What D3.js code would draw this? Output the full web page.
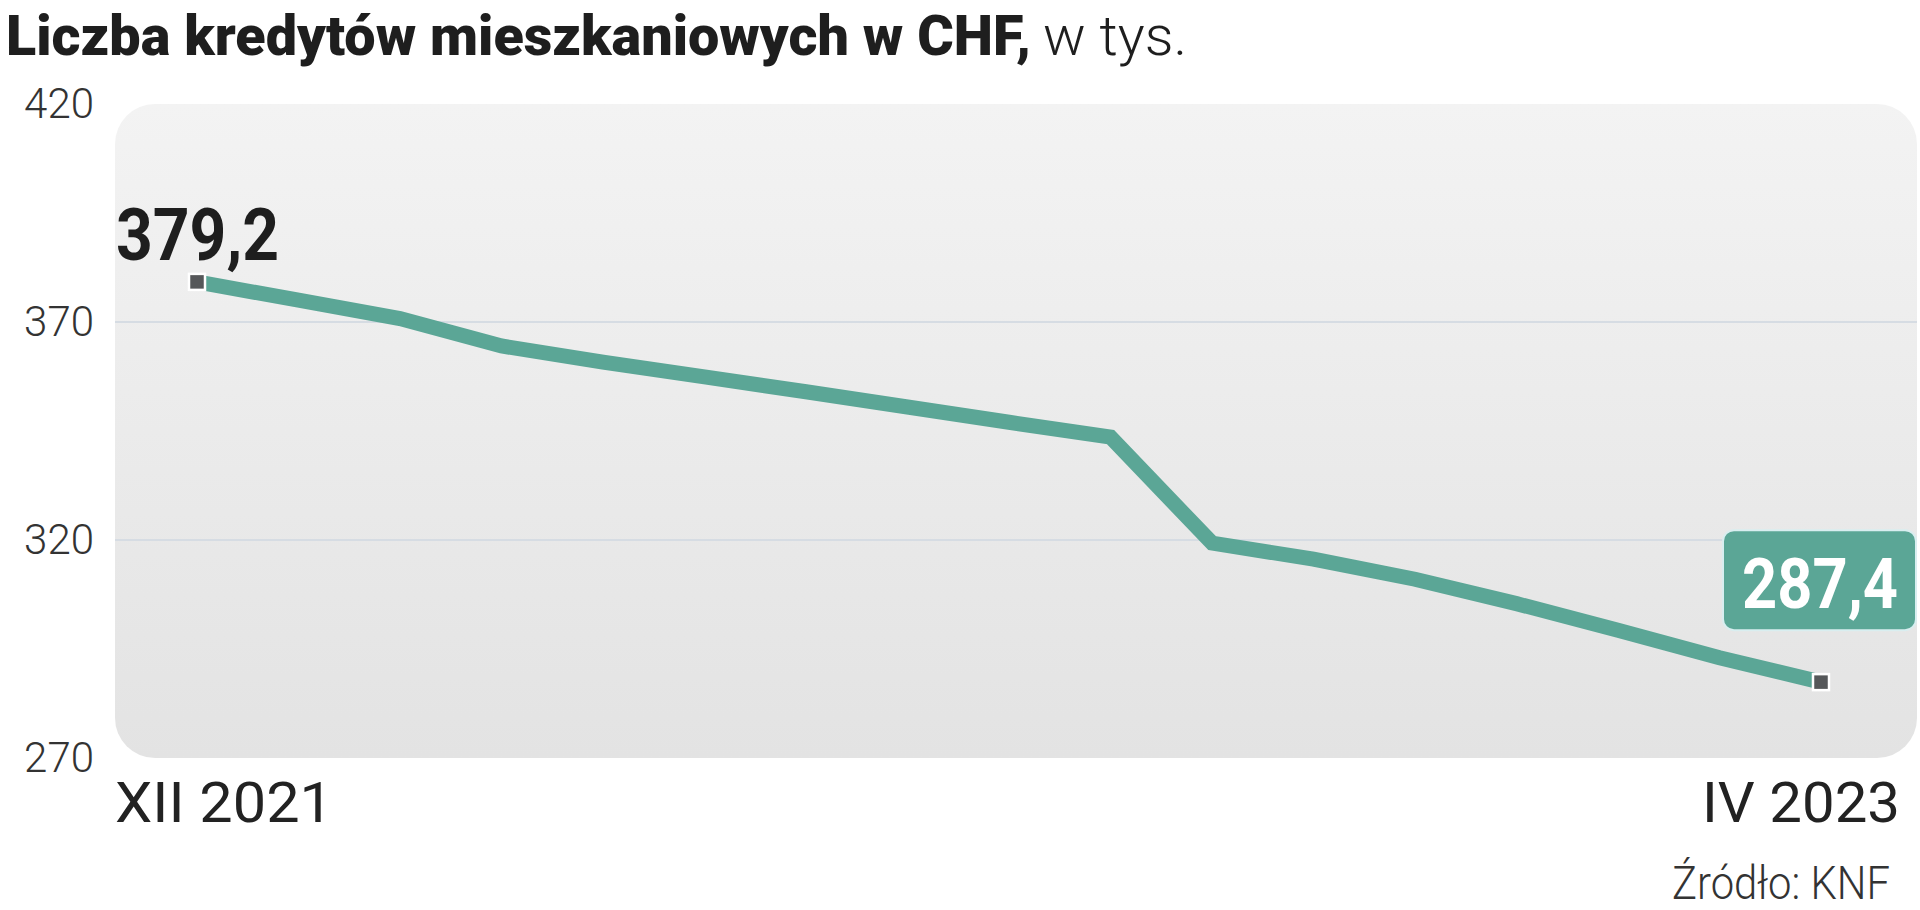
<!DOCTYPE html>
<html lang="pl">
<head>
<meta charset="UTF-8">
<title>Liczba kredytów mieszkaniowych w CHF</title>
<script src="https://cdn.jsdelivr.net/npm/d3@7"></script>
<style>
  html, body { margin: 0; padding: 0; background: #fff; }
  svg { display: block; font-family: Roboto, "Open Sans", sans-serif; }
</style>
</head>
<body>
<svg id="chart" width="1920" height="910"></svg>
<script>
// dane: liczba kredytów w CHF (tys.), XII 2021 - IV 2023
var months = ["2021-12", "2022-01", "2022-02", "2022-03", "2022-04", "2022-05",
              "2022-06", "2022-07", "2022-08", "2022-09", "2022-10", "2022-11",
              "2022-12", "2023-01", "2023-02", "2023-03", "2023-04"];
var values = [379.2, 375.0, 370.8, 364.5, 360.8, 357.4, 354.0, 350.5, 347.0,
              343.6, 319.3, 315.6, 311.0, 305.4, 299.3, 293.0, 287.4];
var yTicks = [270, 320, 370, 420];
var xLabels = ["XII 2021", "IV 2023"];

var svg = d3.select("#chart");

var panel = {left: 115, top: 104, right: 1917, bottom: 758};

var x = d3.scalePoint()
    .domain(months)
    .range([197, 1821]);

var y = d3.scaleLinear()
    .domain([270, 420])
    .range([panel.bottom, panel.top]);

// title
var title = svg.append("text")
    .attr("x", 6)
    .attr("y", 55)
    .attr("font-size", 55)
    .attr("fill", "#1e1e1e");
title.append("tspan")
    .attr("font-weight", 900)
    .attr("textLength", 1025)
    .attr("lengthAdjust", "spacingAndGlyphs")
    .text("Liczba kredytów mieszkaniowych w CHF,");
title.append("tspan")
    .attr("dx", 12)
    .attr("font-weight", 300)
    .attr("textLength", 144)
    .attr("lengthAdjust", "spacingAndGlyphs")
    .text("w tys.");

// background panel
var defs = svg.append("defs");
var grad = defs.append("linearGradient")
    .attr("id", "bg")
    .attr("x1", 0).attr("y1", 0).attr("x2", 0).attr("y2", 1);
grad.append("stop").attr("offset", "0%").attr("stop-color", "#f3f3f3");
grad.append("stop").attr("offset", "100%").attr("stop-color", "#e3e3e3");

svg.append("rect")
    .attr("x", panel.left)
    .attr("y", panel.top)
    .attr("width", panel.right - panel.left)
    .attr("height", panel.bottom - panel.top)
    .attr("rx", 40)
    .attr("fill", "url(#bg)");

// y axis + grid
var yAxis = d3.axisLeft(y)
    .tickValues(yTicks)
    .tickSize(0)
    .tickPadding(0)
    .tickFormat(d3.format("d"));

var gy = svg.append("g")
    .attr("transform", "translate(94,0)")
    .call(yAxis);
gy.select(".domain").remove();
gy.selectAll("text")
    .attr("font-size", 42)
    .attr("font-weight", 300)
    .attr("fill", "#333")
    .attr("font-family", "Roboto, sans-serif");

svg.append("g")
    .selectAll("line")
    .data(yTicks.filter(function (d) { return d > 270 && d < 420; }))
    .enter().append("line")
    .attr("x1", panel.left)
    .attr("x2", panel.right)
    .attr("y1", function (d) { return y(d); })
    .attr("y2", function (d) { return y(d); })
    .attr("stroke", "#d6dce3")
    .attr("stroke-width", 2);

// line
var line = d3.line()
    .x(function (d, i) { return x(months[i]); })
    .y(function (d) { return y(d); });

svg.append("path")
    .datum(values)
    .attr("d", line)
    .attr("fill", "none")
    .attr("stroke", "#5ba696")
    .attr("stroke-width", 15)
    .attr("stroke-linejoin", "miter");

// end markers
var ends = [0, values.length - 1];
svg.append("g")
    .selectAll("rect")
    .data(ends)
    .enter().append("rect")
    .attr("x", function (i) { return x(months[i]) - 8; })
    .attr("y", function (i) { return y(values[i]) - 8; })
    .attr("width", 16)
    .attr("height", 16)
    .attr("fill", "#555759")
    .attr("stroke", "#fff")
    .attr("stroke-width", 2.5);

var fmt = function (v) { return d3.format(".1f")(v).replace(".", ","); };

// first value label
svg.append("text")
    .attr("x", x(months[0]) - 81)
    .attr("y", y(values[0]) - 22)
    .attr("font-size", 73)
    .attr("font-weight", 700)
    .attr("fill", "#1e1e1e")
    .attr("textLength", 163)
    .attr("lengthAdjust", "spacingAndGlyphs")
    .text(fmt(values[0]));

// last value label in box
var last = values.length - 1;
var bx = x(months[last]) + 95, by = y(values[last]) - 52;
svg.append("rect")
    .attr("x", bx - 193)
    .attr("y", by - 100)
    .attr("width", 193)
    .attr("height", 100)
    .attr("rx", 11)
    .attr("fill", "#5ba696")
    .attr("stroke", "#d9eef0")
    .attr("stroke-width", 2);
svg.append("text")
    .attr("x", bx - 174)
    .attr("y", by - 22)
    .attr("font-size", 70)
    .attr("font-weight", 700)
    .attr("fill", "#fff")
    .attr("textLength", 156)
    .attr("lengthAdjust", "spacingAndGlyphs")
    .text(fmt(values[last]));

// x labels
svg.append("text")
    .attr("x", panel.left)
    .attr("y", 822)
    .attr("font-size", 56)
    .attr("fill", "#222")
    .attr("textLength", 218)
    .attr("lengthAdjust", "spacingAndGlyphs")
    .text(xLabels[0]);
svg.append("text")
    .attr("x", 1702)
    .attr("y", 822)
    .attr("font-size", 56)
    .attr("fill", "#222")
    .attr("textLength", 198)
    .attr("lengthAdjust", "spacingAndGlyphs")
    .text(xLabels[1]);

// source
svg.append("text")
    .attr("x", 1672)
    .attr("y", 899)
    .attr("font-size", 46)
    .attr("font-weight", 300)
    .attr("fill", "#333")
    .attr("textLength", 218)
    .attr("lengthAdjust", "spacingAndGlyphs")
    .text("Źródło: KNF");
</script>
</body>
</html>
